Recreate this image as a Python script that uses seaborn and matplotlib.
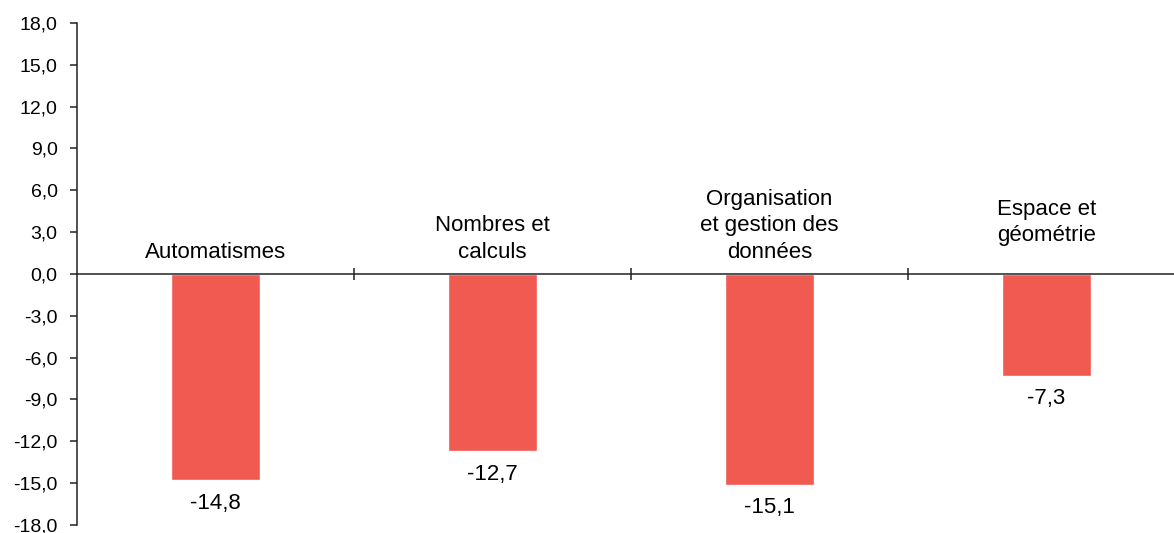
import numpy as np
import matplotlib
matplotlib.use("Agg")
import matplotlib.pyplot as plt
import seaborn as sns

# DATA
categories = ["Automatismes", "Nombres et\ncalculs", "Organisation\net gestion des\ndonnées", "Espace et\ngéométrie"]
values = [-14.8, -12.7, -15.1, -7.3]
y_ticks = np.arange(-18, 19, 3)

BAR_COLOR = "#F15A50"

sns.set_theme(style="white")
plt.rcParams["font.family"] = ["Liberation Sans Narrow", "Liberation Sans", "DejaVu Sans"]
plt.rcParams["text.color"] = "black"
plt.rcParams["ytick.labelcolor"] = "black"

fig = plt.figure(figsize=(11.74, 5.33), dpi=100)
ax = fig.add_axes([0.0656, 0.015, 0.9344, 0.942])

sns.barplot(x=list(range(len(values))), y=values, color=BAR_COLOR, saturation=1,
            width=0.32, ax=ax, native_scale=True)

ax.set_xlim(-0.5, 3.46)
ax.set_ylim(-18, 18)

# y axis
ax.set_yticks(y_ticks)
ax.set_yticklabels([f"{v:.1f}".replace(".", ",") for v in y_ticks], fontsize=14)
ax.tick_params(axis="y", direction="out", length=5, width=1.1, color="#222222", pad=9,
               left=True, labelcolor="black")

# x axis through zero, ticks between categories
for s in ["top", "right"]:
    ax.spines[s].set_visible(False)
ax.spines["bottom"].set_position(("data", 0))
for s in ["left", "bottom"]:
    ax.spines[s].set_color("#222222")
    ax.spines[s].set_linewidth(1.1)
ax.set_xticks([0.5, 1.5, 2.5])
ax.set_xticklabels([])
ax.tick_params(axis="x", direction="inout", length=9, width=1.1, color="#222222", bottom=True)
ax.set_xlabel("")
ax.set_ylabel("")

# category labels above the zero line
for i, cat in enumerate(categories):
    lift = 20 if cat.startswith("Espace") else 8
    ax.annotate(cat, (i, 0), xytext=(0, lift), textcoords="offset points",
                ha="center", va="bottom", fontsize=16, linespacing=1.35, color="black")

# value labels below bars
for i, v in enumerate(values):
    ax.annotate(f"{v:.1f}".replace(".", ","), (i, v), xytext=(0, -9), textcoords="offset points",
                ha="center", va="top", fontsize=16, color="black")

fig.savefig("out.png", dpi=100)
